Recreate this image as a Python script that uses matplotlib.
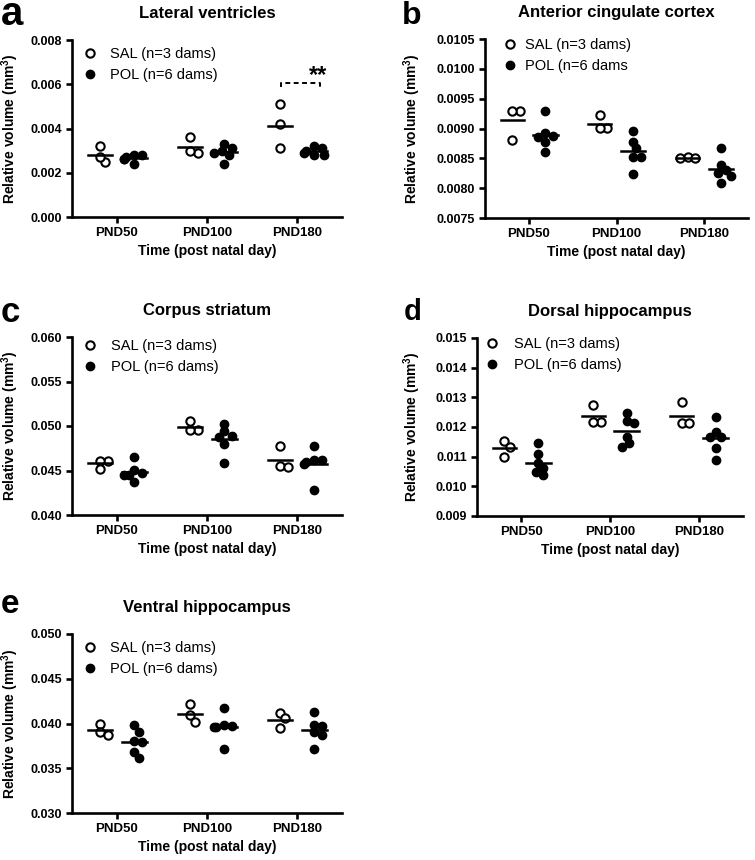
import numpy as np
import matplotlib
matplotlib.use("Agg")
import matplotlib.pyplot as plt

plt.rcParams["font.family"] = ["Liberation Sans", "DejaVu Sans"]
plt.rcParams["mathtext.fontset"] = "custom"
plt.rcParams["mathtext.rm"] = "Liberation Sans"
plt.rcParams["mathtext.bf"] = "Liberation Sans:bold"

groups = ["PND50", "PND100", "PND180"]
legend_sal = "SAL (n=3 dams)"
legend_pol = "POL (n=6 dams)"

# lateral ventricles
lv_sal = [[0.00323, 0.00250, 0.00273], [0.00360, 0.00290, 0.00300], [0.00510, 0.00420, 0.00310]]
lv_pol = [[0.00280, 0.00280, 0.00270, 0.00260, 0.00260, 0.00240],
          [0.00330, 0.00310, 0.00300, 0.00290, 0.00280, 0.00240],
          [0.00320, 0.00310, 0.00300, 0.00290, 0.00280, 0.00280]]
lv_ticks = [0.000, 0.002, 0.004, 0.006, 0.008]

# anterior cingulate cortex
acc_sal = [[0.00930, 0.00930, 0.00881], [0.00923, 0.00901, 0.00901], [0.00853, 0.00851, 0.00850]]
acc_pol = [[0.00930, 0.00892, 0.00888, 0.00885, 0.00877, 0.00860],
           [0.00895, 0.00878, 0.00867, 0.00853, 0.00853, 0.00824],
           [0.00867, 0.00838, 0.00830, 0.00825, 0.00820, 0.00809]]
acc_ticks = [0.0075, 0.0080, 0.0085, 0.0090, 0.0095, 0.0100, 0.0105]

# corpus striatum
cs_sal = [[0.0461, 0.0461, 0.0452], [0.0506, 0.0496, 0.0496], [0.0477, 0.0455, 0.0454]]
cs_pol = [[0.0465, 0.0451, 0.0447, 0.0445, 0.0445, 0.0437],
          [0.0502, 0.0494, 0.0489, 0.0488, 0.0480, 0.0458],
          [0.0477, 0.0462, 0.0462, 0.0460, 0.0457, 0.0428]]
cs_ticks = [0.040, 0.045, 0.050, 0.055, 0.060]

# dorsal hippocampus
dh_sal = [[0.01154, 0.01133, 0.01100], [0.01274, 0.01218, 0.01218], [0.01285, 0.01214, 0.01212]]
dh_pol = [[0.01145, 0.01109, 0.01077, 0.01061, 0.01049, 0.01038],
          [0.01246, 0.01221, 0.01214, 0.01167, 0.01145, 0.01133],
          [0.01234, 0.01184, 0.01167, 0.01167, 0.01128, 0.01089]]
dh_ticks = [0.009, 0.010, 0.011, 0.012, 0.013, 0.014, 0.015]

# ventral hippocampus
vh_sal = [[0.0399, 0.0391, 0.0387], [0.0422, 0.0409, 0.0402], [0.0412, 0.0406, 0.0395]]
vh_pol = [[0.0398, 0.0391, 0.0380, 0.0379, 0.0368, 0.0361],
          [0.0417, 0.0398, 0.0397, 0.0396, 0.0396, 0.0371],
          [0.0413, 0.0398, 0.0397, 0.0390, 0.0387, 0.0371]]
vh_ticks = [0.030, 0.035, 0.040, 0.045, 0.050]

W, H = 755, 860
fig = plt.figure(figsize=(W / 100, H / 100), dpi=100)


def px_axes(left, top, right, bottom):
    return fig.add_axes([left / W, 1 - bottom / H, (right - left) / W, (bottom - top) / H])


def swarm(ax, xc, vals, diam):
    # simple beeswarm in pixel space, top value first
    order = np.argsort(vals)[::-1]
    ppu = ax.transData.transform((1, 0))[0] - ax.transData.transform((0, 0))[0]
    placed = []
    xs = np.zeros(len(vals))
    for i in order:
        y = ax.transData.transform((0, vals[i]))[1]
        for k in [0, 1, -1, 2, -2, 3, -3, 4, -4]:
            dx = k * diam * 0.3
            if all(np.hypot(dx - px, y - py) >= diam * 0.8 for px, py in placed):
                break
        placed.append((dx, y))
        xs[i] = xc + dx / ppu
    return xs


def panel(rect, letter, title, sal, pol, ticks, fmt, label_px, leg, legend_pol_text=legend_pol):
    left, top, right, bottom = rect
    ax = px_axes(*rect)
    wpx, hpx = right - left, bottom - top
    ax.set_xlim(-0.5, 2.5)
    ax.set_ylim(ticks[0], ticks[-1])
    for side in ["top", "right"]:
        ax.spines[side].set_visible(False)
    for side in ["left", "bottom"]:
        ax.spines[side].set_linewidth(1.9)
    ax.tick_params(width=1.9, length=4.5, pad=2.5, labelsize=9)
    ax.set_yticks(ticks)
    ax.set_yticklabels([fmt % t for t in ticks], fontweight="bold")
    ax.set_xticks(range(len(groups)))
    ax.set_xticklabels(groups, fontweight="bold", fontsize=9.5)
    ax.set_xlabel("Time (post natal day)", fontweight="bold", fontsize=10, labelpad=4)
    ax.set_ylabel(r"Relative volume (mm$^{\mathbf{3}}$)", fontweight="bold", fontsize=10)
    ax.yaxis.set_label_coords((label_px - left) / wpx, 0.5)
    ax.set_title(title, fontweight="bold", fontsize=12, pad=16)

    diam = 8.5
    for g in range(len(groups)):
        xs = swarm(ax, g - 0.19, sal[g], diam)
        ax.plot(xs, sal[g], "o", ms=6, mfc="white", mec="black", mew=1.5, clip_on=False,
                label=legend_sal if g == 0 else None)
        m = np.mean(sal[g])
        ax.plot([g - 0.32, g - 0.06], [m, m], color="black", lw=1.8)

        xs = swarm(ax, g + 0.19, pol[g], diam)
        ax.plot(xs, pol[g], "o", ms=6, mfc="black", mec="black", clip_on=False,
                label=legend_pol_text if g == 0 else None)
        m = np.mean(pol[g])
        ax.plot([g + 0.05, g + 0.33], [m, m], color="black", lw=1.8)

    # legend placement in pixels: marker centre, text start, first row centre
    mk_dx, tx_dx, row_dy = leg
    fs = 10.5
    em = fs * 100 / 72
    x0 = mk_dx - em / 2
    pad = (tx_dx - x0 - em) / em
    ax.legend(loc="upper left", bbox_to_anchor=(x0 / wpx, 1 - (row_dy - 6) / hpx),
              frameon=False, fontsize=fs, handlelength=1.0, handletextpad=pad,
              borderpad=0.0, borderaxespad=0.0, labelspacing=0.5)

    char, lx, ly, lsize = letter
    fig.text(lx / W, 1 - ly / H, char, fontsize=lsize, fontweight="bold",
             va="baseline", ha="left")
    return ax


ax_a = panel((72, 40, 342, 217), ("a", 1, 25, 29), "Lateral ventricles", lv_sal, lv_pol,
             lv_ticks, "%.3f", 21, (18, 38, 13))
# significance bracket at PND180
yb, yt = 0.00587, 0.00607
ax_a.plot([1.82, 1.82, 2.26, 2.26], [yb, yt, yt, yb], color="black", lw=1.4, ls=(0, (2.5, 1.8)))
ax_a.text(2.235, 0.00608, "**", fontsize=17, fontweight="bold", ha="center", va="baseline")

panel((485, 39, 748, 218), ("b", 402, 24, 23), "Anterior cingulate cortex", acc_sal, acc_pol,
      acc_ticks, "%.4f", 423, (25, 40, 5), legend_pol_text="POL (n=6 dams")
panel((72, 337, 342, 515), ("c", 1, 322, 25), "Corpus striatum", cs_sal, cs_pol,
      cs_ticks, "%.3f", 21, (18, 39, 8))
panel((477, 338, 743, 516), ("d", 404, 320, 21), "Dorsal hippocampus", dh_sal, dh_pol,
      dh_ticks, "%.3f", 423, (15, 37, 5))
panel((72, 634, 342, 813), ("e", 1, 613, 24), "Ventral hippocampus", vh_sal, vh_pol,
      vh_ticks, "%.3f", 21, (18, 38, 13))

fig.savefig("out.png", dpi=100)
